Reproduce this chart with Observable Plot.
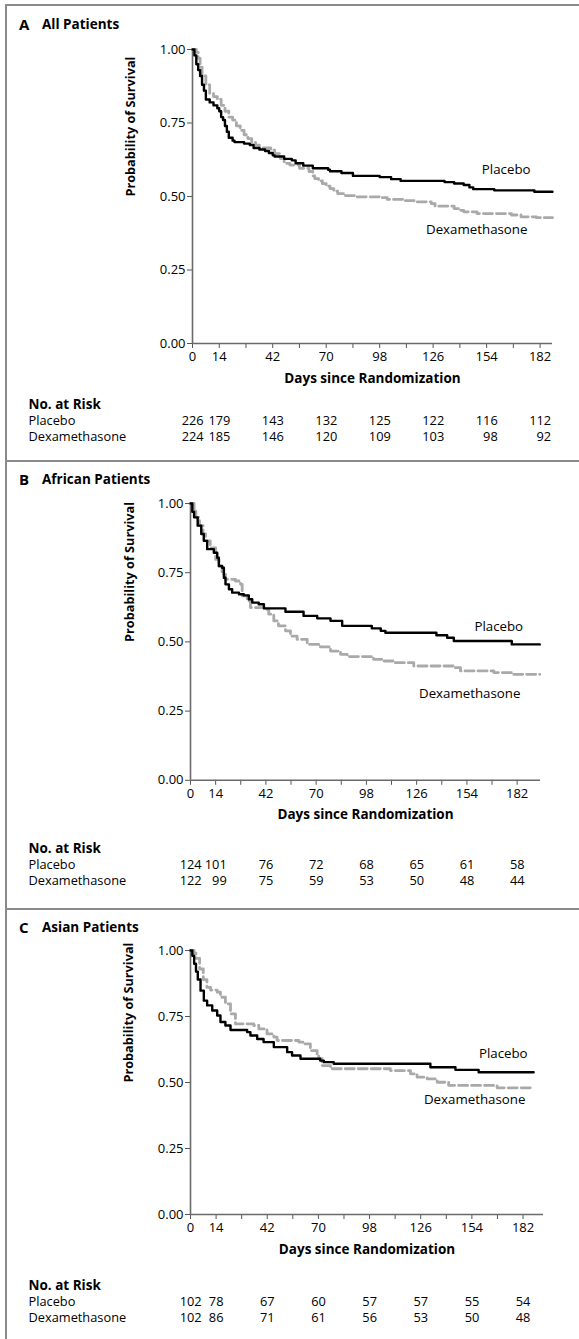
<!DOCTYPE html>
<html><head><meta charset="utf-8">
<script src="https://cdn.jsdelivr.net/npm/d3@7"></script>
<script src="https://cdn.jsdelivr.net/npm/@observablehq/plot@0.6"></script>
<style>
html,body{margin:0;padding:0;background:#fff;}
body{width:579px;height:1339px;overflow:hidden;position:relative;font-family:"Open Sans",sans-serif;color:#000;}
.abs{position:absolute;}
.title{position:absolute;font-weight:700;font-size:13.5px;line-height:20px;height:20px;white-space:nowrap;}
</style></head>
<body>
<script>
// ---------------- data ----------------
const xTickLabels = [0, 14, 42, 70, 98, 126, 154, 182];
const yTicks = [0, 0.25, 0.5, 0.75, 1];
const riskDays = [0, 14, 42, 70, 98, 126, 154, 182];

const panelLetters = ["A", "B", "C"];
const panelTitles = ["All Patients", "African Patients", "Asian Patients"];
const seriesNames = ["Placebo", "Dexamethasone"];

// [day, survival probability]
const placeboA = [[0,1],[1,0.98],[2,0.95],[3,0.93],[4,0.91],[5,0.88],[6,0.86],[7,0.83],[9,0.82],[11,0.81],[13,0.80],[14,0.79],[15,0.77],[16,0.76],[17,0.74],[18,0.72],[19,0.70],[21,0.69],[22,0.685],[27,0.68],[30,0.675],[32,0.665],[35,0.66],[38,0.655],[40,0.648],[42,0.64],[43,0.636],[48,0.628],[52,0.623],[54,0.613],[58,0.605],[63,0.596],[71,0.591],[72,0.586],[78,0.58],[84,0.57],[98,0.566],[104,0.559],[109,0.553],[132,0.549],[137,0.544],[142,0.539],[145,0.531],[147,0.525],[158,0.521],[179,0.516],[188.5,0.516]];
const dexaA = [[0,1],[2,0.99],[3,0.97],[4,0.94],[5,0.91],[7,0.88],[9,0.85],[11,0.84],[13,0.83],[15,0.81],[17,0.79],[19,0.77],[21,0.76],[23,0.74],[25,0.725],[27,0.71],[29,0.697],[31,0.685],[33,0.675],[35,0.665],[41,0.658],[43,0.646],[46,0.629],[48,0.613],[51,0.607],[56,0.596],[61,0.585],[63,0.57],[64,0.561],[66,0.553],[68,0.544],[70,0.535],[72,0.527],[74,0.518],[76,0.51],[80,0.503],[85,0.499],[99,0.496],[102,0.49],[110,0.486],[116,0.482],[125,0.476],[127,0.467],[137,0.459],[140,0.453],[142,0.448],[149,0.442],[167,0.437],[172,0.431],[180,0.428],[188.5,0.428]];

const placeboB = [[0,1],[1,0.97],[2,0.95],[4,0.92],[6,0.89],[7.4,0.865],[9.3,0.835],[13,0.822],[14.9,0.804],[15.8,0.774],[17.6,0.768],[18.6,0.732],[19.5,0.708],[21.4,0.69],[23.2,0.678],[27,0.672],[29.7,0.668],[32.5,0.654],[34.4,0.642],[38,0.636],[40.9,0.621],[52.9,0.609],[63,0.594],[70.6,0.585],[78,0.576],[84.5,0.558],[101,0.549],[106,0.54],[108.6,0.533],[137,0.524],[143,0.515],[146.7,0.503],[179,0.491],[194.6,0.491]];
const dexaB = [[0,1],[2,0.98],[3,0.95],[5,0.92],[7,0.89],[8.4,0.865],[11,0.84],[14,0.798],[15.8,0.774],[17.6,0.744],[19.5,0.726],[25,0.72],[27.9,0.708],[28.8,0.666],[31.6,0.648],[33.4,0.624],[40.9,0.618],[43.6,0.60],[46.4,0.576],[49,0.558],[52.9,0.54],[55.7,0.521],[59.4,0.509],[65,0.491],[72.4,0.482],[78,0.467],[83.6,0.455],[87.3,0.447],[102,0.437],[107.7,0.431],[113,0.425],[124.4,0.413],[146.7,0.407],[150.4,0.395],[169,0.389],[179,0.383],[194.6,0.383]];

const placeboC = [[0,1],[1,0.98],[2,0.95],[3,0.92],[4,0.89],[5.5,0.848],[7.3,0.81],[9.1,0.792],[11.9,0.773],[14.6,0.754],[16.4,0.729],[19.1,0.716],[21.9,0.699],[31,0.691],[32.8,0.678],[36.5,0.665],[40,0.653],[45.6,0.634],[52.9,0.615],[55.6,0.602],[60.2,0.59],[71,0.583],[73,0.577],[78.4,0.571],[131.3,0.558],[145,0.548],[157.7,0.539],[187.8,0.539]];
const dexaC = [[0,1],[2,0.99],[3,0.97],[5,0.93],[7,0.89],[9,0.86],[11,0.85],[14.6,0.842],[16.4,0.823],[19.1,0.798],[21.9,0.76],[24.6,0.722],[34.6,0.716],[37.4,0.703],[41.9,0.684],[45.6,0.672],[47.4,0.659],[59.3,0.653],[62,0.646],[65.6,0.621],[69.3,0.602],[70.2,0.59],[72,0.564],[76.6,0.552],[109.4,0.545],[120.4,0.533],[124,0.52],[129.5,0.514],[135,0.501],[141.3,0.489],[167.8,0.48],[187.8,0.48]];

// curve label anchors [day, survival] (text end)
const labelPosA = [[177, 0.592], [175.4, 0.388]];
const labelPosB = [[185.3, 0.554], [183.8, 0.313]];
const labelPosC = [[184.5, 0.609], [183.3, 0.434]];

// numbers at risk
const riskPlaceboA = [226, 179, 143, 132, 125, 122, 116, 112];
const riskDexaA    = [224, 185, 146, 120, 109, 103, 98, 92];
const riskPlaceboB = [124, 101, 76, 72, 68, 65, 61, 58];
const riskDexaB    = [122, 99, 75, 59, 53, 50, 48, 44];
const riskPlaceboC = [102, 78, 67, 60, 57, 57, 55, 54];
const riskDexaC    = [102, 86, 71, 61, 56, 53, 50, 48];

// x-axis extent (days) per panel
const axisEndDays = [188.5, 195, 193.2];

// ---------------- layout ----------------
const FONT = '"Open Sans", sans-serif';
const W = 579;
const layouts = [
  {titleY: 24,  y1: 49,    y0: 343,   left: 192, right: 552, ylabX: 130, riskTop: 405},
  {titleY: 479, y1: 502.5, y0: 779.3, left: 190, right: 540, ylabX: 129, riskTop: 849},
  {titleY: 927, y1: 950,   y0: 1214,  left: 190, right: 543, ylabX: 128, riskTop: 1286}
];
const rowGap = 15.5;
const panels = [
  {placebo: placeboA, dexa: dexaA, labels: labelPosA, riskP: riskPlaceboA, riskD: riskDexaA},
  {placebo: placeboB, dexa: dexaB, labels: labelPosB, riskP: riskPlaceboB, riskD: riskDexaB},
  {placebo: placeboC, dexa: dexaC, labels: labelPosC, riskP: riskPlaceboC, riskD: riskDexaC}
];

const frameColor = "#8a8a8a";
function addDiv(style, html) {
  const d = document.createElement("div");
  d.className = "abs";
  Object.assign(d.style, style);
  if (html != null) d.innerHTML = html;
  document.body.appendChild(d);
  return d;
}
addDiv({left: "5px", top: "4px", width: "700px", height: "1500px", borderLeft: `2px solid ${frameColor}`, borderTop: `2px solid ${frameColor}`});
addDiv({left: "5px", top: "460px", width: "700px", height: "2px", background: frameColor});
addDiv({left: "5px", top: "908px", width: "700px", height: "2px", background: frameColor});

const allTicks = d3.range(0, 183, 14);
const digitHalf = 3.7;

panels.forEach((p, i) => {
  const L = layouts[i];
  const end = axisEndDays[i];
  const t1 = document.createElement("div");
  t1.className = "title"; t1.style.left = "19px"; t1.style.top = (L.titleY - 10) + "px";
  t1.textContent = panelLetters[i];
  t1.style.fontSize = "15px";
  document.body.appendChild(t1);
  const t2 = document.createElement("div");
  t2.className = "title"; t2.style.left = "42px"; t2.style.top = (L.titleY - 10) + "px";
  t2.textContent = panelTitles[i];
  document.body.appendChild(t2);

  const mt = 20, mb = 56;
  const labelData = seriesNames.map((n, k) => ({name: n, day: p.labels[k][0], s: p.labels[k][1]}));
  const chart = Plot.plot({
    width: W,
    height: (L.y0 - L.y1) + mt + mb,
    marginTop: mt, marginBottom: mb, marginLeft: L.left, marginRight: W - L.right,
    x: {domain: [0, end]},
    y: {domain: [0, 1]},
    style: {fontFamily: FONT, fontSize: "13px", color: "#000", background: "transparent", overflow: "visible"},
    marks: [
      Plot.axisY({ticks: yTicks, tickFormat: d3.format(".2f"), tickSize: 5, tickPadding: 2, label: null, stroke: "#555"}),
      Plot.axisX({ticks: allTicks, tickFormat: d => xTickLabels.includes(d) ? String(d) : "", tickSize: 5, tickPadding: 3, label: null, stroke: "#555"}),
      Plot.ruleX([0], {y1: 0, y2: 1, stroke: "#6a6a6a", strokeWidth: 1.6}),
      Plot.ruleY([0], {x1: 0, x2: end, stroke: "#6a6a6a", strokeWidth: 1.6}),
      Plot.line(p.dexa, {x: d => d[0], y: d => d[1], curve: "step-after", stroke: "#a9a9a9", strokeWidth: 2.8, strokeDasharray: "9,4"}),
      Plot.line(p.placebo, {x: d => d[0], y: d => d[1], curve: "step-after", stroke: "#000", strokeWidth: 2.4}),
      Plot.text(labelData, {x: "day", y: "s", text: "name", textAnchor: "end", fontSize: 13.3}),
      Plot.text(["Probability of Survival"], {frameAnchor: "left", dx: L.ylabX - L.left, rotate: -90, fontWeight: "bold", fontSize: 12.7}),
      Plot.text(["Days since Randomization"], {frameAnchor: "bottom", dy: 39, fontWeight: "bold", fontSize: 13.5})
    ]
  });
  chart.style.position = "absolute";
  chart.style.left = "0px";
  chart.style.top = (L.y1 - mt) + "px";
  document.body.appendChild(chart);

  // at-risk table: row index 0 = header, 1 = Placebo, 2 = Dexamethasone
  const base = 12;
  const groups = [{name: "Placebo", row: 1, values: p.riskP}, {name: "Dexamethasone", row: 2, values: p.riskD}];
  const numMarks = riskDays.map((day, c) => {
    const maxLen = Math.max(String(p.riskP[c]).length, String(p.riskD[c]).length);
    return Plot.text(groups, {x: () => day, y: g => g.row, text: g => String(g.values[c]), textAnchor: "end", dx: maxLen * digitHalf});
  });
  const risk = Plot.plot({
    width: W, height: 54,
    marginTop: 0, marginBottom: 0, marginLeft: L.left, marginRight: W - L.right,
    x: {domain: [0, end], axis: null},
    y: {domain: [0, 2], range: [base, base + 2 * rowGap], axis: null},
    style: {fontFamily: FONT, fontSize: "12.8px", color: "#000", background: "transparent", overflow: "visible"},
    marks: [
      Plot.text(["No. at Risk"], {y: () => 0, frameAnchor: "left", dx: 28 - L.left, dy: -1, textAnchor: "start", fontWeight: "bold", fontSize: 13.5}),
      Plot.text(groups, {y: g => g.row, text: g => g.name, frameAnchor: "left", dx: 28 - L.left, textAnchor: "start"}),
      ...numMarks
    ]
  });
  risk.style.position = "absolute";
  risk.style.left = "0px";
  risk.style.top = (L.riskTop - base) + "px";
  document.body.appendChild(risk);
});
</script>
</body></html>
